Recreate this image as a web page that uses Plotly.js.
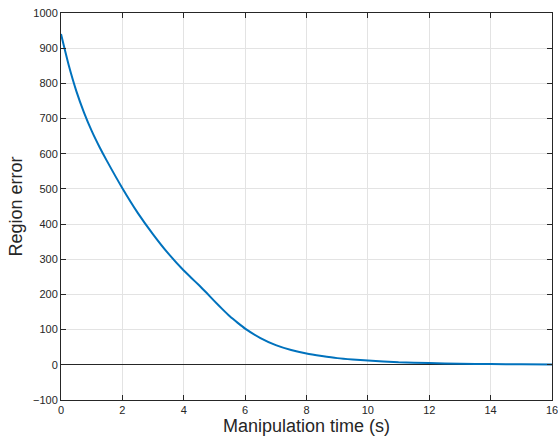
<!DOCTYPE html>
<html>
<head>
<meta charset="utf-8">
<script src="https://cdn.plot.ly/plotly-3.0.1.min.js"></script>
<style>html,body{margin:0;padding:0;background:#fff;}#chart{width:558px;height:438px;}</style>
</head>
<body>
<div id="chart"></div>
<script>
const timeS = [0, 0.25, 0.5, 0.75, 1, 1.25, 1.5, 2, 2.5, 3, 3.5, 4, 4.25, 4.5, 4.75, 5, 5.25, 5.5, 5.75, 6, 6.5, 7, 7.5, 8, 8.5, 9, 9.5, 10, 11, 12, 13, 14, 15, 16];
const regionError = [940, 852, 778, 717, 665, 620, 579, 502, 432, 371, 316, 268, 247, 226, 204, 181, 159, 138, 120, 103, 76, 56, 42, 32, 25, 19, 15, 12, 7, 5, 3, 2, 1.5, 1];
const xTicks = [0, 2, 4, 6, 8, 10, 12, 14, 16];
const yTicks = [-100, 0, 100, 200, 300, 400, 500, 600, 700, 800, 900, 1000];

const fontFam = 'Liberation Sans, Arial, Helvetica, sans-serif';
const axisCommon = {
  showline: true, mirror: 'ticks', linecolor: '#262626', linewidth: 1,
  ticks: 'inside', ticklen: 5, tickcolor: '#262626', tickwidth: 1,
  showgrid: true, gridcolor: '#e3e3e3', gridwidth: 1,
  ticklabeloverflow: 'allow',
  tickfont: {family: fontFam, size: 11, color: '#262626'}
};

const data = [{
  x: timeS, y: regionError, type: 'scatter', mode: 'lines',
  line: {color: '#0072BD', width: 2, shape: 'spline', smoothing: 0.5}
}];

const layout = {
  width: 558, height: 438,
  margin: {l: 61, r: 6, t: 13, b: 38},
  paper_bgcolor: '#ffffff', plot_bgcolor: '#ffffff',
  showlegend: false,
  xaxis: Object.assign({}, axisCommon, {
    range: [0, 16], tickvals: xTicks, zeroline: false,
    title: {text: 'Manipulation time (s)', font: {family: fontFam, size: 18, color: '#262626'}, standoff: 4}
  }),
  yaxis: Object.assign({}, axisCommon, {
    range: [-100, 1000], tickvals: yTicks, zeroline: true, zerolinecolor: '#262626', zerolinewidth: 1,
    title: {text: 'Region error', font: {family: fontFam, size: 18, color: '#262626'}, standoff: 5}
  })
};

Plotly.newPlot('chart', data, layout, {displayModeBar: false, staticPlot: true});
</script>
</body>
</html>
